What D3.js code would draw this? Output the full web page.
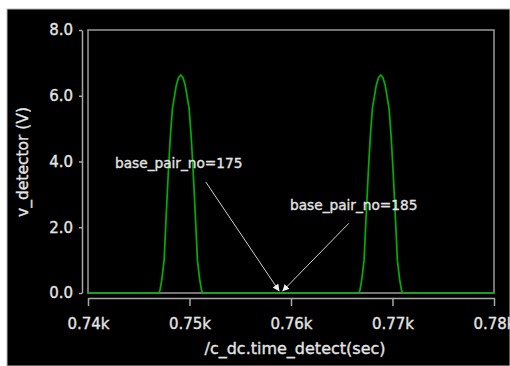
<!DOCTYPE html>
<html>
<head>
<meta charset="utf-8">
<script src="https://cdn.jsdelivr.net/npm/d3@7/dist/d3.min.js"></script>
<style>
  html, body { margin: 0; padding: 0; background: #ffffff; }
  svg { display: block; }
  text { font-family: "DejaVu Sans", sans-serif; }
</style>
</head>
<body>
<svg id="chart" width="510" height="366"></svg>
<script>
// ---- data ----
const timeValues = [
  740,
  747.0, 747.1, 747.27, 747.5, 747.68, 747.91, 748.11, 748.32, 748.7, 748.92, 749.14, 749.36, 749.58, 749.96, 750.17, 750.37, 750.6, 750.78, 751.01, 751.18, 751.28,
  766.7, 766.8, 766.97, 767.2, 767.38, 767.61, 767.81, 768.02, 768.4, 768.62, 768.84, 769.06, 769.28, 769.66, 769.87, 770.07, 770.3, 770.48, 770.71, 770.88, 770.98,
  780
];
const voltageValues = [
  0,
  0, 0.1, 0.4, 1.0, 2.2, 3.65, 4.74, 5.62, 6.32, 6.55, 6.63, 6.55, 6.32, 5.62, 4.74, 3.65, 2.2, 1.0, 0.4, 0.1, 0,
  0, 0.1, 0.4, 1.0, 2.2, 3.65, 4.74, 5.62, 6.32, 6.55, 6.63, 6.55, 6.32, 5.62, 4.74, 3.65, 2.2, 1.0, 0.4, 0.1, 0,
  0
];
const xTickValues = [740, 750, 760, 770, 780];
const xTickLabels = ["0.74k", "0.75k", "0.76k", "0.77k", "0.78k"];
const yTickValues = [0, 2, 4, 6, 8];
const yTickLabels = ["0.0", "2.0", "4.0", "6.0", "8.0"];
const annotationTexts = ["base_pair_no=175", "base_pair_no=185"];
const annotationTarget = [759.0, 0.05];
const annotationStarts = [[751.6, 3.38], [765.7, 2.12]];
const xTitle = "/c_dc.time_detect(sec)";
const yTitle = "v_detector (V)";

// ---- drawing ----
(function () {
const svg = d3.select("#chart");
const W = 510, H = 366;
const pLeft = 88, pRight = 494, pTop = 30, pBottom = 293;

svg.append("rect").attr("x", 7).attr("y", 9).attr("width", W - 7).attr("height", H - 9)
  .attr("fill", "#000").attr("stroke", "#b8b8b8").attr("stroke-width", 1);

const x = d3.scaleLinear().domain([740, 780]).range([pLeft, pRight]);
const y = d3.scaleLinear().domain([0, 8]).range([pBottom, pTop]);

const axisColor = "#a8a8a8";
const labelColor = "#e4e4e4";
const thicken = sel => sel.attr("stroke", labelColor).attr("stroke-width", 0.35);

// plot frame
svg.append("rect").attr("x", pLeft).attr("y", pTop).attr("width", pRight - pLeft).attr("height", pBottom - pTop)
  .attr("fill", "none").attr("stroke", "#9a9a9a").attr("stroke-width", 1.5);

// y axis (offset to the left)
const yAxis = svg.append("g").attr("transform", "translate(82,0)")
  .call(d3.axisLeft(y).tickValues(yTickValues).tickFormat((d, i) => yTickLabels[i])
    .tickSizeInner(3).tickSizeOuter(0).tickPadding(6));
yAxis.select(".domain").attr("stroke", axisColor).attr("stroke-width", 1.5);
yAxis.selectAll(".tick line").attr("stroke", axisColor).attr("stroke-width", 1.5);
yAxis.selectAll(".tick text").attr("fill", labelColor).attr("font-size", 15)
  .attr("font-family", "DejaVu Sans, sans-serif").call(thicken);

// x axis (offset below)
const xAxis = svg.append("g").attr("transform", "translate(0,298)")
  .call(d3.axisBottom(x).tickValues(xTickValues).tickFormat((d, i) => xTickLabels[i])
    .tickSizeInner(8).tickSizeOuter(0).tickPadding(12));
xAxis.select(".domain").attr("stroke", axisColor).attr("stroke-width", 1.5);
xAxis.selectAll(".tick line").attr("stroke", axisColor).attr("stroke-width", 1.5);
xAxis.selectAll(".tick text").attr("fill", labelColor).attr("font-size", 15)
  .attr("font-family", "DejaVu Sans, sans-serif").call(thicken);

// trace
const pts = timeValues.map((t, i) => [t, voltageValues[i]]);
svg.append("path").datum(pts)
  .attr("fill", "none").attr("stroke", "#00b000").attr("stroke-width", 1.7)
  .attr("d", d3.line().x(d => x(d[0])).y(d => y(d[1])));

// arrows
const defs = svg.append("defs");
defs.append("marker").attr("id", "ah").attr("viewBox", "0 0 10 10")
  .attr("refX", 10).attr("refY", 5).attr("markerWidth", 7).attr("markerHeight", 7)
  .attr("markerUnits", "userSpaceOnUse").attr("orient", "auto")
  .append("path").attr("d", "M0,0 L10,5 L0,10 Z").attr("fill", "#f0f0f0");

const tipOffsets = [-1.5, 1.5];
annotationStarts.forEach((s, i) => {
  svg.append("line")
    .attr("x1", x(s[0])).attr("y1", y(s[1]))
    .attr("x2", x(annotationTarget[0]) + tipOffsets[i]).attr("y2", y(annotationTarget[1]))
    .attr("stroke", "#cfcfcf").attr("stroke-width", 1)
    .attr("marker-end", "url(#ah)");
});

// annotation labels
svg.append("text").attr("x", 115).attr("y", 168).attr("fill", labelColor)
  .attr("font-size", 13.7).text(annotationTexts[0]).call(thicken);
svg.append("text").attr("x", 290).attr("y", 210).attr("fill", labelColor)
  .attr("font-size", 13.7).text(annotationTexts[1]).call(thicken);

// axis titles
svg.append("text").attr("x", 295).attr("y", 354).attr("text-anchor", "middle")
  .attr("fill", labelColor).attr("font-size", 16).text(xTitle).call(thicken);
svg.append("text").attr("transform", "translate(28,162) rotate(-90)").attr("text-anchor", "middle")
  .attr("fill", labelColor).attr("font-size", 15.5).text(yTitle).call(thicken);
})();
</script>
</body>
</html>
